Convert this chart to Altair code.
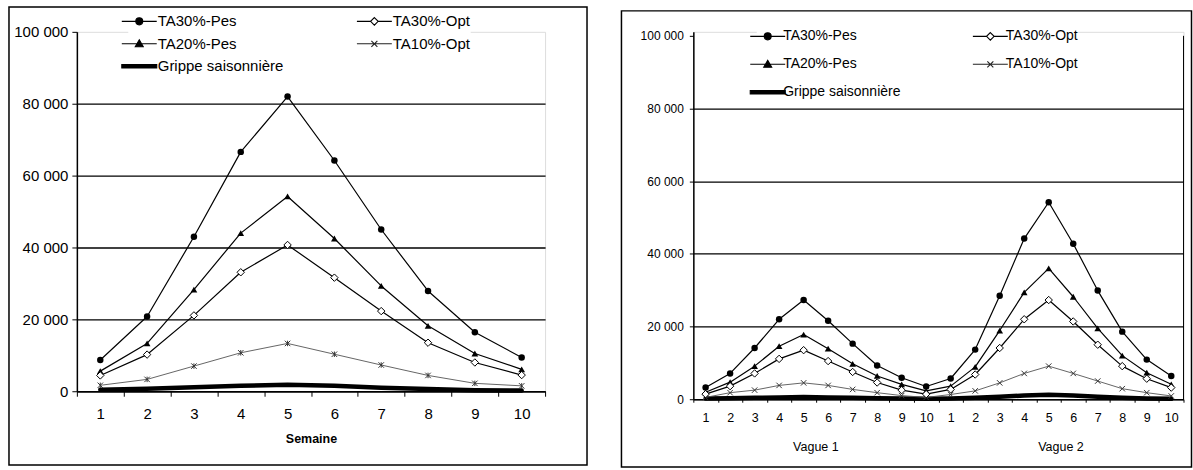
import altair as alt
import pandas as pd

FONT = "Liberation Sans, Arial, Helvetica, sans-serif"

series_names = ["TA30%-Pes", "TA30%-Opt", "TA20%-Pes", "TA10%-Opt", "Grippe saisonnière"]

# ---------- Left panel: one wave, weeks 1..10 ----------
weeks = [1, 2, 3, 4, 5, 6, 7, 8, 9, 10]
left_pes30 = [8700, 20800, 43000, 66600, 82000, 64200, 45000, 27900, 16400, 9400]
left_opt30 = [4400, 10200, 21100, 33100, 40700, 31600, 22300, 13500, 8000, 4500]
left_pes20 = [5600, 13300, 28300, 44000, 54200, 42500, 29300, 18200, 10500, 6100]
left_opt10 = [1650, 3300, 7000, 10700, 13300, 10300, 7300, 4400, 2200, 1500]
left_grippe = [400, 700, 1100, 1500, 1800, 1500, 1000, 600, 300, 200]

# ---------- Right panel: two waves, 20 weeks ----------
idx = list(range(1, 21))
wave_labels = ["Vague 1", "Vague 2"]
wave_anchor_idx = [5, 15]
right_pes30 = [3200, 7100, 14100, 22000, 27300, 21600, 15300, 9300, 5900, 3500,
               5700, 13650, 28500, 44200, 54200, 42800, 29900, 18600, 10900, 6400]
right_opt30 = [1400, 3600, 7100, 11100, 13500, 10500, 7500, 4600, 2500, 1400,
               2700, 6800, 14100, 22000, 27300, 21400, 15000, 9100, 5650, 3200]
right_pes20 = [1900, 4700, 9100, 14600, 17800, 13900, 9750, 6400, 4100, 2300,
               3600, 8900, 18900, 29400, 36000, 28200, 19500, 12000, 7300, 4100]
right_opt10 = [500, 1800, 2500, 3800, 4500, 3800, 2700, 1800, 1000, 500,
               1300, 2300, 4500, 7100, 9100, 7100, 5000, 2900, 1800, 900]
right_grippe = [200, 300, 400, 500, 600, 500, 400, 300, 200, 100,
                200, 400, 700, 1000, 1200, 1000, 700, 400, 200, 100]

y_ticks = [0, 20000, 40000, 60000, 80000, 100000]


def long_df(xname, xs, cols):
    rows = []
    for name, vals in zip(series_names, cols):
        for x, v in zip(xs, vals):
            rows.append({xname: x, "series": name, "value": v})
    return pd.DataFrame(rows)


left_df = long_df("week", weeks, [left_pes30, left_opt30, left_pes20, left_opt10, left_grippe])
right_df = long_df("idx", idx, [right_pes30, right_opt30, right_pes20, right_opt10, right_grippe])
groups_df = pd.DataFrame({"idx": wave_anchor_idx, "label": wave_labels})
one = pd.DataFrame({"a": [0]})

legend_paths = [
    "M-1.75,0H1.75M0.35,0A0.35,0.35,0,1,1,-0.35,0A0.35,0.35,0,1,1,0.35,0Z",
    "M-1.75,0H-0.38M0.38,0H1.75M0,-0.38L0.38,0L0,0.38L-0.38,0Z",
    "M-1.75,0H1.75M0,-0.4L0.4,0.3L-0.4,0.3Z",
    "M-1.75,0H1.75M-0.3,-0.3L0.3,0.3M-0.3,0.3L0.3,-0.3",
    "M-1.75,-0.17H1.75V0.17H-1.75Z",
]
legend_fills = ["black", "white", "black", "transparent", "black"]
legend_strokes = ["black", "black", "black", "#222222", "black"]

X_LEFT_PATH = "M-1,-1L1,1M-1,1L1,-1M0,-1L0,1"
X_RIGHT_PATH = "M-1,-1L1,1M-1,1L1,-1"

YLABEL = "datum.value == 0 ? '0' : (datum.value / 1000) + ' 000'"
HIDE_TOP_GRID = {"condition": {"test": "datum.value > 90000", "value": 0}, "value": 1}


def panel(df, xfield, xdomain, xaxis, yaxis, ymax, W, H, frame, legend, xpath, extra):
    X = alt.X(f"{xfield}:O",
              scale=alt.Scale(type="band", domain=xdomain, paddingInner=0, paddingOuter=0),
              axis=xaxis)
    Y = alt.Y("value:Q", scale=alt.Scale(domain=[0, ymax], nice=False), axis=yaxis)

    fx1, fx2, fy1, fy2 = frame
    frame_layer = alt.Chart(one).mark_rect(fill="transparent", stroke="black", strokeWidth=1.5).encode(
        x=alt.value(fx1), x2=alt.value(fx2), y=alt.value(fy1), y2=alt.value(fy2))

    def line(name, color, width):
        return alt.Chart(df).transform_filter(alt.datum.series == name).mark_line(
            color=color, strokeWidth=width, strokeJoin="round", strokeCap="round").encode(x=X, y=Y)

    def pts(name, **kw):
        return alt.Chart(df).transform_filter(alt.datum.series == name).mark_point(
            opacity=1, **kw).encode(x=X, y=Y)

    l_grippe = line("Grippe saisonnière", "black", 4.5)
    l4 = line("TA10%-Opt", "#555555", 0.9)
    l3 = line("TA20%-Pes", "black", 1.2)
    l2 = line("TA30%-Opt", "black", 1.2)
    l1 = line("TA30%-Pes", "black", 1.2)

    p1 = pts("TA30%-Pes", shape="circle", filled=True, color="black", size=42)
    p2 = pts("TA30%-Opt", shape="diamond", filled=True, fill="white", stroke="black", strokeWidth=1, size=55)
    p3 = pts("TA20%-Pes", shape="triangle-up", filled=True, color="black", size=45)
    p4 = pts("TA10%-Opt", shape=xpath, filled=False, color="#333333", strokeWidth=1, size=30)

    leg = alt.Chart(df).mark_point(opacity=0, size=400, filled=True, strokeWidth=1.1).encode(
        x=X, y=Y,
        shape=alt.Shape("series:N", scale=alt.Scale(domain=series_names, range=legend_paths), legend=legend),
        fill=alt.Fill("series:N", scale=alt.Scale(domain=series_names, range=legend_fills), legend=legend),
        stroke=alt.Stroke("series:N", scale=alt.Scale(domain=series_names, range=legend_strokes), legend=legend),
    )

    layers = [frame_layer, l_grippe, l4, l3, l2, l1, p4, p1, p3, p2, leg] + extra
    return alt.layer(*layers).properties(width=W, height=H)


# ---------- Left ----------
LW, LH = 469, 360
left_x_axis = alt.Axis(title="Semaine", labelAngle=0, tickBand="extent", tickSize=5, tickColor="black",
                       labelExpr="isValid(datum.value) ? datum.value : ''",
                       domainColor="black", domainWidth=1.5, grid=False, labelFont=FONT, labelFontSize=15,
                       labelColor="black", labelPadding=10, titleFont=FONT, titleFontSize=12.5,
                       titleFontWeight="bold", titleColor="black", titlePadding=11)
left_y_axis = alt.Axis(title=None, values=y_ticks, labelExpr=YLABEL,
                       tickSize=5, tickColor="black", domainColor="black", domainWidth=1.5,
                       grid=True, gridColor="black", gridWidth=1.3, gridOpacity=HIDE_TOP_GRID,
                       labelFont=FONT, labelFontSize=15, labelColor="black", labelPadding=4)
left_legend = alt.Legend(title=None, orient="none", direction="horizontal", legendX=51.5, legendY=-21.5,
                         columns=2, columnPadding=70.5, rowPadding=3.5, symbolSize=400,
                         symbolStrokeWidth=1.1, symbolOpacity=1, labelFont=FONT, labelFontSize=15,
                         labelColor="black", labelOffset=7.5, labelLimit=300, fillColor="white",
                         padding=0, gridAlign="all")
left = panel(left_df, "week", weeks, left_x_axis, left_y_axis, 100000, LW, LH,
             (-68, 511, -25, 434), left_legend, X_LEFT_PATH, [])

# ---------- Right ----------
# plot area top is shared with the left panel (y=32); the 100 000 line sits 4 px lower
RW, RH = 491, 368
R_YMAX = 101100
right_x_axis = alt.Axis(title=None, labelAngle=0, tickBand="extent", tickSize=3, tickColor="black",
                        labelExpr="isValid(datum.value) ? ((datum.value - 1) % 10) + 1 : ''",
                        domainColor="black", domainWidth=1.5, grid=False, labelFont=FONT, labelFontSize=12.5,
                        labelColor="black", labelPadding=9)
right_y_axis = alt.Axis(title=None, values=y_ticks, labelExpr=YLABEL,
                        tickSize=4, tickColor="black", domainColor="black", domainWidth=1.5,
                        grid=True, gridColor="black", gridWidth=1.3, gridOpacity=HIDE_TOP_GRID,
                        labelFont=FONT, labelFontSize=12, labelColor="black", labelPadding=6)
right_legend = alt.Legend(title=None, orient="none", direction="horizontal", legendX=63.5, legendY=-6.5,
                          columns=2, columnPadding=69, rowPadding=10, symbolSize=400,
                          symbolStrokeWidth=1.1, symbolOpacity=1, labelFont=FONT, labelFontSize=14,
                          labelColor="black", labelOffset=4.5, labelLimit=300, fillColor="white",
                          padding=0, gridAlign="all")

wave_text = alt.Chart(groups_df).mark_text(font=FONT, fontSize=12.5, color="black", baseline="middle").encode(
    x=alt.X("idx:O", bandPosition=1,
            scale=alt.Scale(type="band", domain=idx, paddingInner=0, paddingOuter=0)),
    y=alt.value(416), text="label:N")
right_border = alt.Chart(one).mark_rule(color="black", strokeWidth=1).encode(
    x=alt.value(RW), y=alt.datum(100000), y2=alt.datum(0))

right = panel(right_df, "idx", idx, right_x_axis, right_y_axis, R_YMAX, RW, RH,
              (-72, 499, -21, 436), right_legend, X_RIGHT_PATH, [wave_text, right_border])

chart = alt.hconcat(left, right, spacing=30.5).resolve_scale(
    shape="independent", fill="independent", stroke="independent"
).resolve_legend(
    shape="independent", fill="independent", stroke="independent"
).properties(
    padding={"left": 7, "top": 4.5, "right": 0, "bottom": 0}
).configure_view(stroke="transparent").configure(background="white")

chart.save("out.html", embed_options={"renderer": "svg", "actions": False})
